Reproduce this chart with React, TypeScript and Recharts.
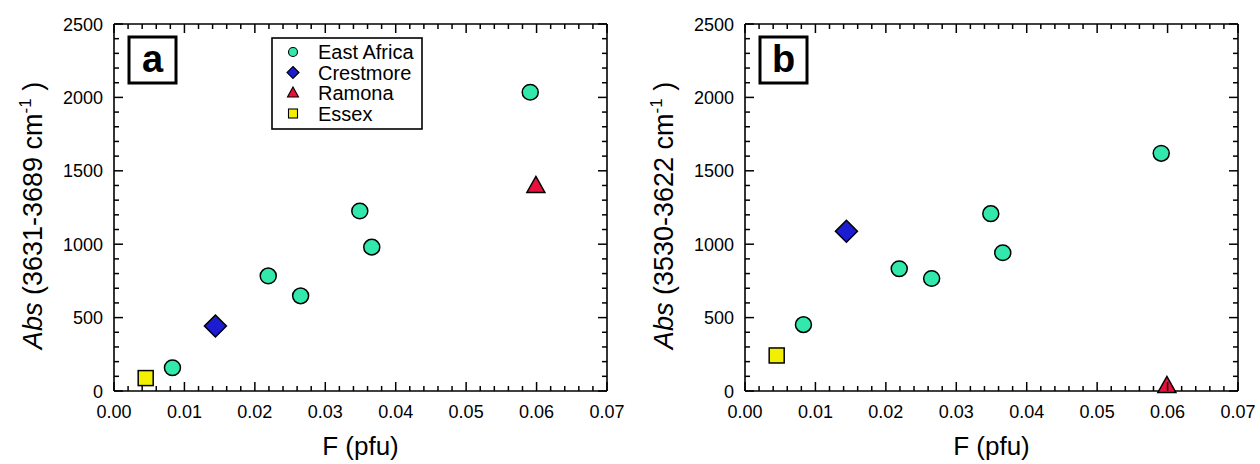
import React from "react";
import { ScatterChart, Scatter, XAxis, YAxis } from "recharts";

const FONT = '"Liberation Sans", Arial, Helvetica, sans-serif';

// F (pfu) and absorbance
const seriesNames = ["East Africa", "Crestmore", "Ramona", "Essex"];
const seriesColors = ["#33E8AC", "#1C1CD0", "#E8103C", "#F2F000"];

const eastAfricaF = [0.0083, 0.0219, 0.0265, 0.0349, 0.0366, 0.0591];
const eastAfricaAbsA = [158, 784, 648, 1226, 980, 2035];
const eastAfricaAbsB = [452, 833, 766, 1208, 942, 1619];

const crestmoreF = [0.0144];
const crestmoreAbsA = [443];
const crestmoreAbsB = [1088];

const ramonaF = [0.0599];
const ramonaAbsA = [1400];
const ramonaAbsB = [38];

const essexF = [0.0045];
const essexAbsA = [88];
const essexAbsB = [242];

const xTickLabels = ["0.00", "0.01", "0.02", "0.03", "0.04", "0.05", "0.06", "0.07"];
const yTickLabels = ["0", "500", "1000", "1500", "2000", "2500"];
// major ticks every 5th, minor in between
const xTicks = Array.from({ length: 36 }, (_, i) => +(i * 0.002).toFixed(3));
const yTicks = Array.from({ length: 26 }, (_, i) => i * 100);

const toRows = (f: number[], abs: number[]) => f.map((v, i) => ({ f: v, abs: abs[i] }));

const MAJOR = 9;
const MINOR = 5;
const TICK_W = 1.5;

const BottomTick = (p: any) => {
  const major = p.index % 5 === 0;
  const x = Number(p.x);
  const y = Number(p.y);
  return (
    <g>
      <path d={`M${x},${y}V${y - (major ? MAJOR : MINOR)}`} stroke="#000" strokeWidth={TICK_W} fill="none" />
      {major && (
        <text x={x} y={y + 27} textAnchor="middle" fontSize={18} fontFamily={FONT} fill="#000" stroke="none">
          {xTickLabels[p.index / 5]}
        </text>
      )}
    </g>
  );
};

const TopTick = (p: any) => {
  const major = p.index % 5 === 0;
  const x = Number(p.x);
  const y = Number(p.y);
  return <path d={`M${x},${y}V${y + (major ? MAJOR : MINOR)}`} stroke="#000" strokeWidth={TICK_W} fill="none" />;
};

const LeftTick = (p: any) => {
  const major = p.index % 5 === 0;
  const x = Number(p.x);
  const y = Number(p.y);
  return (
    <g>
      <path d={`M${x},${y}H${x + (major ? MAJOR : MINOR)}`} stroke="#000" strokeWidth={TICK_W} fill="none" />
      {major && (
        <text x={x - 11} y={y + 6.5} textAnchor="end" fontSize={18} fontFamily={FONT} fill="#000" stroke="none">
          {yTickLabels[p.index / 5]}
        </text>
      )}
    </g>
  );
};

const RightTick = (p: any) => {
  const major = p.index % 5 === 0;
  const x = Number(p.x);
  const y = Number(p.y);
  return <path d={`M${x},${y}H${x - (major ? MAJOR : MINOR)}`} stroke="#000" strokeWidth={TICK_W} fill="none" />;
};

const Circle = (p: any) => (
  <ellipse cx={p.cx} cy={p.cy} rx={8} ry={7.8} fill={seriesColors[0]} stroke="#000" strokeWidth={1.5} />
);
const Diamond = (p: any) => (
  <path
    d={`M${p.cx},${p.cy - 11}L${p.cx + 11},${p.cy}L${p.cx},${p.cy + 11}L${p.cx - 11},${p.cy}Z`}
    fill={seriesColors[1]}
    stroke="#000"
    strokeWidth={1.5}
  />
);
const Triangle = (p: any) => (
  <path
    d={`M${p.cx},${p.cy - 9}L${p.cx + 9},${p.cy + 7}L${p.cx - 9},${p.cy + 7}Z`}
    fill={seriesColors[2]}
    stroke="#000"
    strokeWidth={1.5}
  />
);
const Square = (p: any) => (
  <rect x={p.cx - 7.5} y={p.cy - 7.5} width={15} height={15} fill={seriesColors[3]} stroke="#000" strokeWidth={1.5} />
);

const LegendBox = () => {
  const rows = [52, 72.5, 93, 113.5];
  const mx = 293;
  return (
    <g>
      <rect x={272} y={38} width={150} height={91} fill="#fff" stroke="#000" strokeWidth={1.6} />
      <ellipse cx={mx} cy={rows[0]} rx={4.5} ry={4.5} fill={seriesColors[0]} stroke="#000" strokeWidth={1.1} />
      <path
        d={`M${mx},${rows[1] - 6}L${mx + 6},${rows[1]}L${mx},${rows[1] + 6}L${mx - 6},${rows[1]}Z`}
        fill={seriesColors[1]}
        stroke="#000"
        strokeWidth={1.1}
      />
      <path
        d={`M${mx},${rows[2] - 6}L${mx + 5.5},${rows[2] + 4}L${mx - 5.5},${rows[2] + 4}Z`}
        fill={seriesColors[2]}
        stroke="#000"
        strokeWidth={1.1}
      />
      <rect x={mx - 4.5} y={rows[3] - 4.5} width={9} height={9} fill={seriesColors[3]} stroke="#000" strokeWidth={1.1} />
      {seriesNames.map((n, i) => (
        <text key={n} x={318} y={rows[i] + 7} fontSize={20} fontFamily={FONT} fill="#000">
          {n}
        </text>
      ))}
    </g>
  );
};

type PanelProps = {
  letter: string;
  range: string;
  eaAbs: number[];
  crAbs: number[];
  raAbs: number[];
  esAbs: number[];
  legend?: boolean;
};

const axisLine = { stroke: "#000", strokeWidth: 1.6 };

function Panel({ letter, range, eaAbs, crAbs, raAbs, esAbs, legend }: PanelProps) {
  return (
    <ScatterChart width={630} height={464} margin={{ top: 23, right: 22, bottom: 33, left: 54 }}>
      <XAxis
        type="number"
        dataKey="f"
        domain={[0, 0.07]}
        ticks={xTicks}
        interval={0}
        tickSize={0}
        tickMargin={0}
        height={40}
        axisLine={axisLine}
        tickLine={false}
        tick={BottomTick}
        label={(p: any) => (
          <text
            x={p.viewBox.x + p.viewBox.width / 2}
            y={p.viewBox.y + 64}
            textAnchor="middle"
            fontSize={26}
            fontFamily={FONT}
            fill="#000"
          >
            F (pfu)
          </text>
        )}
      />
      <XAxis
        xAxisId="top"
        orientation="top"
        type="number"
        dataKey="f"
        domain={[0, 0.07]}
        ticks={xTicks}
        interval={0}
        tickSize={0}
        tickMargin={0}
        height={1}
        axisLine={axisLine}
        tickLine={false}
        tick={TopTick}
      />
      <YAxis
        type="number"
        dataKey="abs"
        domain={[0, 2500]}
        ticks={yTicks}
        interval={0}
        tickSize={0}
        tickMargin={0}
        width={60}
        axisLine={axisLine}
        tickLine={false}
        tick={LeftTick}
        label={(p: any) => {
          const x = p.viewBox.x - 12;
          const y = p.viewBox.y + p.viewBox.height / 2 + 8;
          return (
            <text
              x={x}
              y={y}
              transform={`rotate(-90, ${x}, ${y})`}
              textAnchor="middle"
              fontSize={27}
              fontFamily={FONT}
              fill="#000"
            >
              <tspan fontStyle="italic">Abs</tspan>
              <tspan>{` (${range} cm`}</tspan>
              <tspan fontSize={17} dy={-11}>
                -1
              </tspan>
              <tspan dy={11}>{" )"}</tspan>
            </text>
          );
        }}
      />
      <YAxis
        yAxisId="right"
        orientation="right"
        type="number"
        dataKey="abs"
        domain={[0, 2500]}
        ticks={yTicks}
        interval={0}
        tickSize={0}
        tickMargin={0}
        width={1}
        axisLine={axisLine}
        tickLine={false}
        tick={RightTick}
      />
      <Scatter
        name={seriesNames[3]}
        data={toRows(essexF, esAbs)}
        xAxisId="top"
        yAxisId="right"
        shape={Square}
        isAnimationActive={false}
      />
      <Scatter name={seriesNames[0]} data={toRows(eastAfricaF, eaAbs)} shape={Circle} isAnimationActive={false} />
      <Scatter name={seriesNames[1]} data={toRows(crestmoreF, crAbs)} shape={Diamond} isAnimationActive={false} />
      <Scatter name={seriesNames[2]} data={toRows(ramonaF, raAbs)} shape={Triangle} isAnimationActive={false} />
      <g>
        <rect x={129} y={37} width={47} height={46} fill="#fff" stroke="#000" strokeWidth={3} />
        <text x={152.5} y={72} textAnchor="middle" fontSize={38} fontWeight="bold" fontFamily={FONT} fill="#000">
          {letter}
        </text>
      </g>
      {legend && <LegendBox />}
    </ScatterChart>
  );
}

export default function App() {
  return (
    <div style={{ position: "absolute", left: 0, top: 0, width: 1260, height: 464, background: "#fff" }}>
      <div style={{ position: "absolute", left: 0, top: 0 }}>
        <Panel letter="a" range="3631-3689" eaAbs={eastAfricaAbsA} crAbs={crestmoreAbsA} raAbs={ramonaAbsA} esAbs={essexAbsA} legend />
      </div>
      <div style={{ position: "absolute", left: 631, top: 0 }}>
        <Panel letter="b" range="3530-3622" eaAbs={eastAfricaAbsB} crAbs={crestmoreAbsB} raAbs={ramonaAbsB} esAbs={essexAbsB} />
      </div>
    </div>
  );
}
